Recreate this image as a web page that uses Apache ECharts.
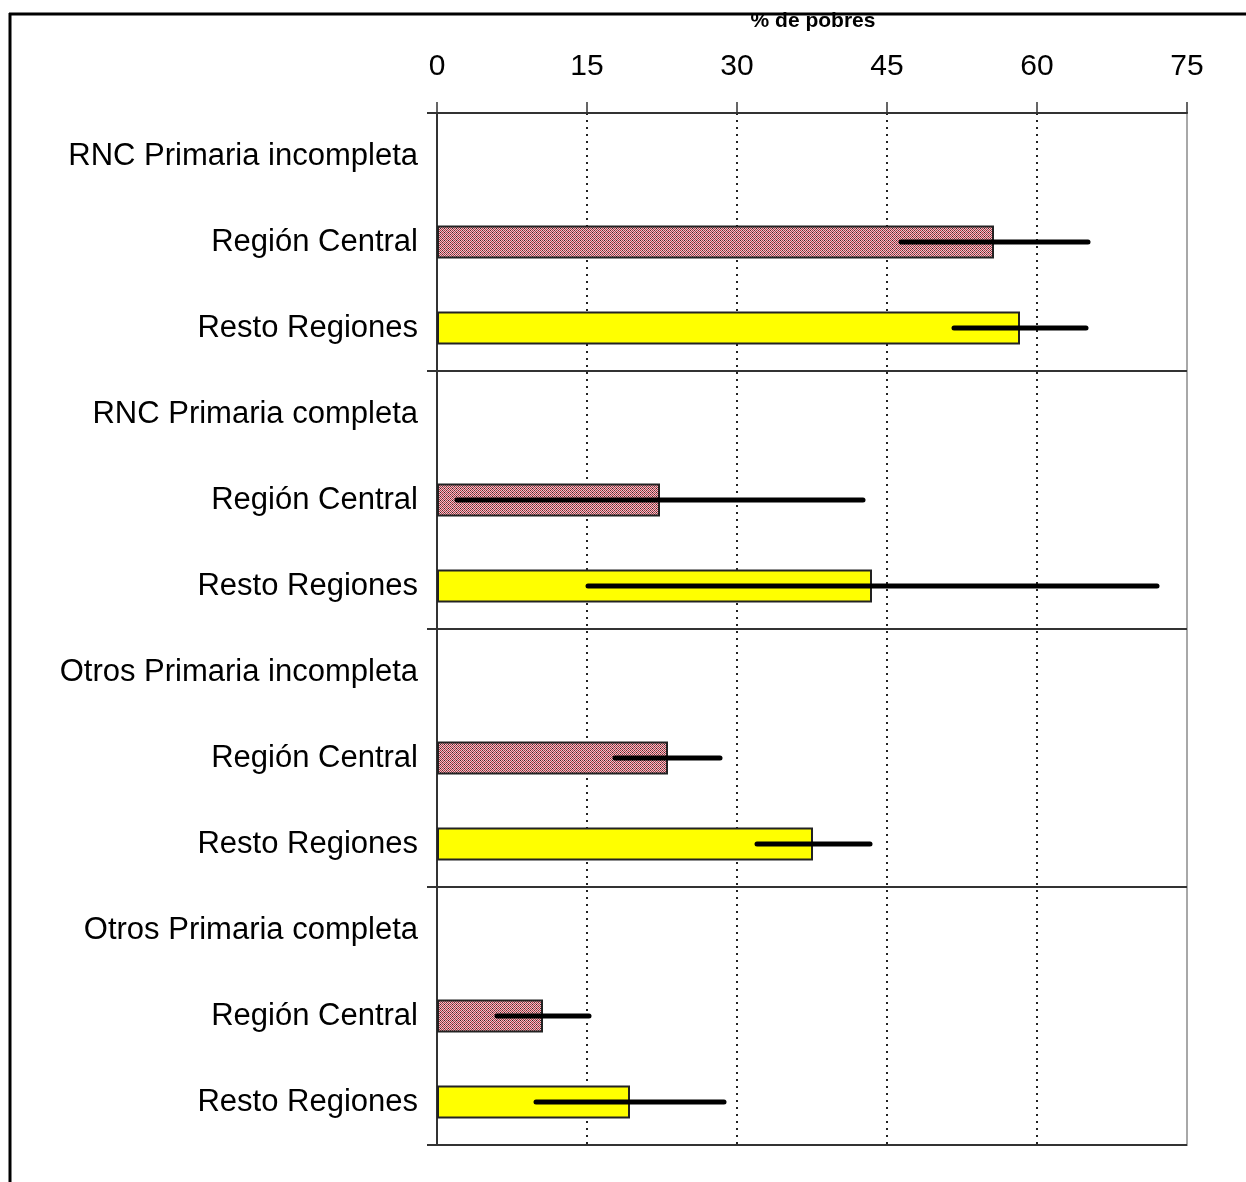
<!DOCTYPE html>
<html>
<head>
<meta charset="utf-8">
<style>
  html, body { margin: 0; padding: 0; background: #ffffff; }
  #chart { width: 1246px; height: 1182px; }
</style>
<script src="https://cdn.jsdelivr.net/npm/echarts@6/dist/echarts.min.js"></script>
</head>
<body>
<div id="chart"></div>
<script>
// Poverty share (% de pobres) by household type and region, with confidence ranges
const groupNames = ['RNC Primaria incompleta', 'RNC Primaria completa', 'Otros Primaria incompleta', 'Otros Primaria completa'];
const regionNames = ['Región Central', 'Resto Regiones'];

const centralValues = [55.7, 22.3, 23.1, 10.6];
const centralLow    = [46.4,  2.0, 17.8,  6.0];
const centralHigh   = [65.1, 42.6, 28.3, 15.2];

const restoValues   = [58.3, 43.5, 37.6, 19.3];
const restoLow      = [51.7, 15.1, 32.0,  9.9];
const restoHigh     = [64.9, 72.0, 43.3, 28.7];

const xTicks = [0, 15, 30, 45, 60, 75];
const axisTitle = '% de pobres';

// Dithered rose fill for the central-region bars
function makeDither() {
  const c = document.createElement('canvas');
  c.width = 4; c.height = 4;
  const ctx = c.getContext('2d');
  for (let y = 0; y < 4; y++) {
    for (let x = 0; x < 4; x++) {
      let col = ((x + y) % 2 === 0) ? '#b03644' : '#e6c8cc';
      if (x === 0 && y === 0) col = '#4a1820';
      if (x === 2 && y === 2) col = '#6e2830';
      ctx.fillStyle = col;
      ctx.fillRect(x, y, 1, 1);
    }
  }
  return c;
}
const dither = makeDither();

// Rows: group heading, then one row per region
const rowLabels = [];
const barData = [];
const errData = [];
groupNames.forEach((g, gi) => {
  const base = gi * 3;
  rowLabels.push(g);
  barData.push(null);
  rowLabels.push(regionNames[0]);
  barData.push({ value: centralValues[gi], itemStyle: { color: { image: dither, repeat: 'repeat' } } });
  errData.push([base + 1, centralLow[gi], centralHigh[gi]]);
  rowLabels.push(regionNames[1]);
  barData.push({ value: restoValues[gi], itemStyle: { color: '#ffff00' } });
  errData.push([base + 2, restoLow[gi], restoHigh[gi]]);
});
const rowKeys = rowLabels.map((_, i) => String(i));

const FONT = '"Liberation Sans", Arial, sans-serif';
const chart = echarts.init(document.getElementById('chart'), null, { renderer: 'canvas' });

chart.setOption({
  backgroundColor: '#ffffff',
  animation: false,
  grid: {
    left: 437, top: 113, right: 59, bottom: 37,
    show: true, borderColor: '#a8a8a8', borderWidth: 2, backgroundColor: 'transparent'
  },
  xAxis: {
    type: 'value',
    position: 'top',
    min: 0, max: 75, interval: 15,
    axisLine: { show: true, lineStyle: { color: '#333333', width: 2 } },
    axisTick: { show: true, length: 11, lineStyle: { color: '#333333', width: 1.5 } },
    axisLabel: {
      margin: 31, color: '#000000', fontSize: 30, fontFamily: FONT,
      formatter: v => (xTicks.indexOf(v) >= 0 ? String(v) : '')
    },
    splitLine: {
      show: true,
      lineStyle: {
        color: ['transparent', '#222222', '#222222', '#222222', '#222222', 'transparent'],
        width: 2, type: [2, 5]
      }
    }
  },
  yAxis: {
    type: 'category',
    inverse: true,
    data: rowKeys,
    axisLine: { show: true, lineStyle: { color: '#333333', width: 2 } },
    axisTick: { show: true, length: 10, interval: i => i % 3 === 0, lineStyle: { color: '#333333', width: 2 } },
    splitLine: { show: true, interval: i => i % 3 === 0, lineStyle: { color: '#333333', width: 2 } },
    axisLabel: {
      margin: 19, color: '#000000', fontSize: 31, fontFamily: FONT,
      formatter: v => rowLabels[Number(v)]
    }
  },
  series: [
    {
      type: 'bar',
      data: barData,
      barWidth: 33,
      itemStyle: { borderColor: '#222222', borderWidth: 2 },
      z: 2
    },
    {
      type: 'custom',
      data: errData,
      encode: { y: 0, x: [1, 2] },
      z: 5,
      renderItem: (params, api) => {
        const row = api.value(0);
        const a = api.coord([api.value(1), row]);
        const b = api.coord([api.value(2), row]);
        return {
          type: 'line',
          shape: { x1: a[0], y1: a[1], x2: b[0], y2: b[1] },
          style: { stroke: '#000000', lineWidth: 5, lineCap: 'round' }
        };
      }
    }
  ],
  graphic: [
    {
      type: 'text', z: 10,
      position: [813, 21],
      style: {
        text: axisTitle, x: 0, y: 0, align: 'center', verticalAlign: 'middle',
        font: 'bold 21px ' + FONT, fill: '#000000'
      }
    },
    { type: 'line', z: 20, shape: { x1: 9, y1: 14, x2: 1246, y2: 14 }, style: { stroke: '#000000', lineWidth: 3 } },
    { type: 'line', z: 20, shape: { x1: 10, y1: 13, x2: 10, y2: 1182 }, style: { stroke: '#000000', lineWidth: 3 } }
  ]
});
</script>
</body>
</html>
